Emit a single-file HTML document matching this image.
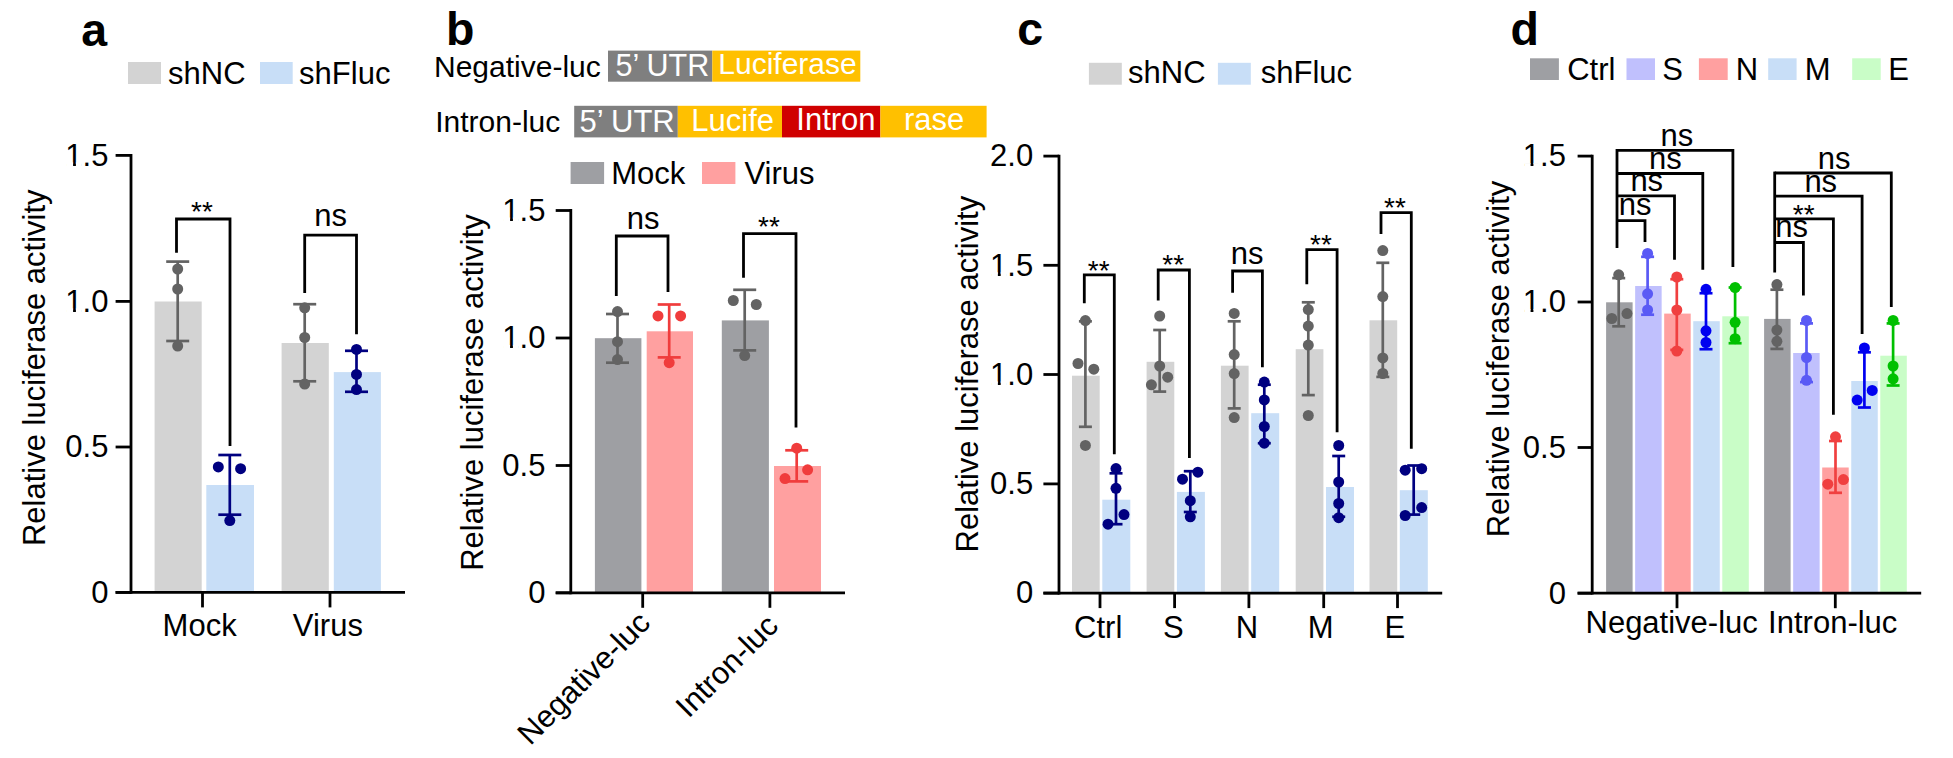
<!DOCTYPE html>
<html><head><meta charset="utf-8"><style>
html,body{margin:0;padding:0;background:#fff;}
svg{display:block;}
text{font-family:"Liberation Sans",sans-serif;}
</style></head><body>
<svg width="1953" height="758" viewBox="0 0 1953 758">
<rect width="1953" height="758" fill="#fff"/>
<text x="81.15" y="45.5" font-size="46.5" font-weight="bold" fill="#000" >a</text>
<rect x="128" y="62" width="33" height="22" fill="#d3d3d3"/>
<text x="168.12" y="83.8" font-size="31" font-weight="normal" fill="#000" >shNC</text>
<rect x="260" y="62" width="32.7" height="22" fill="#c8def7"/>
<text x="299.12" y="83.8" font-size="31" font-weight="normal" fill="#000" >shFluc</text>
<rect x="154.6" y="301.5" width="47.1" height="290.9" fill="#d3d3d3"/>
<rect x="206.3" y="485" width="47.7" height="107.4" fill="#c8def7"/>
<rect x="281.6" y="343" width="47.2" height="249.4" fill="#d3d3d3"/>
<rect x="333.8" y="372.1" width="47.1" height="220.3" fill="#c8def7"/>
<line x1="177.7" y1="261.6" x2="177.7" y2="341" stroke="#636363" stroke-width="2.7" stroke-linecap="butt"/>
<line x1="166.2" y1="261.6" x2="189.2" y2="261.6" stroke="#636363" stroke-width="2.7" stroke-linecap="butt"/>
<line x1="166.2" y1="341" x2="189.2" y2="341" stroke="#636363" stroke-width="2.7" stroke-linecap="butt"/>
<circle cx="177.7" cy="269" r="5.5" fill="#636363"/>
<circle cx="177.7" cy="289" r="5.5" fill="#636363"/>
<circle cx="177.7" cy="346" r="5.5" fill="#636363"/>
<line x1="229.8" y1="455" x2="229.8" y2="514.7" stroke="#000080" stroke-width="2.7" stroke-linecap="butt"/>
<line x1="218.3" y1="455" x2="241.3" y2="455" stroke="#000080" stroke-width="2.7" stroke-linecap="butt"/>
<line x1="218.3" y1="514.7" x2="241.3" y2="514.7" stroke="#000080" stroke-width="2.7" stroke-linecap="butt"/>
<circle cx="218.3" cy="466.9" r="5.5" fill="#000080"/>
<circle cx="240.6" cy="468.7" r="5.5" fill="#000080"/>
<circle cx="229.8" cy="520.6" r="5.5" fill="#000080"/>
<line x1="304.7" y1="304.2" x2="304.7" y2="381.3" stroke="#636363" stroke-width="2.7" stroke-linecap="butt"/>
<line x1="293.2" y1="304.2" x2="316.2" y2="304.2" stroke="#636363" stroke-width="2.7" stroke-linecap="butt"/>
<line x1="293.2" y1="381.3" x2="316.2" y2="381.3" stroke="#636363" stroke-width="2.7" stroke-linecap="butt"/>
<circle cx="304.7" cy="307.8" r="5.5" fill="#636363"/>
<circle cx="304.7" cy="337.5" r="5.5" fill="#636363"/>
<circle cx="304.7" cy="384" r="5.5" fill="#636363"/>
<line x1="356.5" y1="350.8" x2="356.5" y2="391.8" stroke="#000080" stroke-width="2.7" stroke-linecap="butt"/>
<line x1="345" y1="350.8" x2="368" y2="350.8" stroke="#000080" stroke-width="2.7" stroke-linecap="butt"/>
<line x1="345" y1="391.8" x2="368" y2="391.8" stroke="#000080" stroke-width="2.7" stroke-linecap="butt"/>
<circle cx="356.5" cy="349.4" r="5.5" fill="#000080"/>
<circle cx="356.5" cy="374.4" r="5.5" fill="#000080"/>
<circle cx="356.5" cy="389.6" r="5.5" fill="#000080"/>
<line x1="131" y1="154" x2="131" y2="593.8" stroke="#000" stroke-width="2.8" stroke-linecap="butt"/>
<line x1="115.6" y1="155.4" x2="131" y2="155.4" stroke="#000" stroke-width="2.8" stroke-linecap="butt"/>
<text x="65.33" y="165.7" font-size="31" font-weight="normal" fill="#000" >1.5</text>
<rect x="67" y="162.38" width="6.07" height="4.22" fill="#fff"/>
<rect x="75.91" y="162.38" width="5.88" height="4.22" fill="#fff"/>
<line x1="115.6" y1="301.4" x2="131" y2="301.4" stroke="#000" stroke-width="2.8" stroke-linecap="butt"/>
<text x="65.33" y="311.7" font-size="31" font-weight="normal" fill="#000" >1.0</text>
<rect x="67" y="308.38" width="6.07" height="4.22" fill="#fff"/>
<rect x="75.91" y="308.38" width="5.88" height="4.22" fill="#fff"/>
<line x1="115.6" y1="447" x2="131" y2="447" stroke="#000" stroke-width="2.8" stroke-linecap="butt"/>
<text x="65.33" y="457.3" font-size="31" font-weight="normal" fill="#000" >0.5</text>
<line x1="115.6" y1="592.4" x2="131" y2="592.4" stroke="#000" stroke-width="2.8" stroke-linecap="butt"/>
<text x="91.2" y="602.7" font-size="31" font-weight="normal" fill="#000" >0</text>
<line x1="115.6" y1="592.4" x2="405" y2="592.4" stroke="#000" stroke-width="2.8" stroke-linecap="butt"/>
<line x1="202.5" y1="592.4" x2="202.5" y2="607.4" stroke="#000" stroke-width="2.8" stroke-linecap="butt"/>
<line x1="330" y1="592.4" x2="330" y2="607.4" stroke="#000" stroke-width="2.8" stroke-linecap="butt"/>
<text x="162.59" y="635.6" font-size="31" font-weight="normal" fill="#000" >Mock</text>
<text x="292.84" y="635.6" font-size="31" font-weight="normal" fill="#000" >Virus</text>
<text x="0" y="0" font-size="31" fill="#000" transform="translate(45,546.1) rotate(-90)">Relative luciferase activity</text>
<path d="M176.5,252.8 V219 H230 V446" fill="none" stroke="#000" stroke-width="2.8" stroke-linejoin="miter" stroke-linecap="butt"/>
<text x="191.06" y="221.25" font-size="28" font-weight="normal" fill="#000" >**</text>
<path d="M304.7,293.1 V235.2 H356.5 V334.2" fill="none" stroke="#000" stroke-width="2.8" stroke-linejoin="miter" stroke-linecap="butt"/>
<text x="314.19" y="226" font-size="31" font-weight="normal" fill="#000" >ns</text>
<text x="445.95" y="45.02" font-size="46.5" font-weight="bold" fill="#000" >b</text>
<text x="434" y="76.5" font-size="30" font-weight="normal" fill="#000" >Negative-luc</text>
<rect x="608" y="50.6" width="104.3" height="31.1" fill="#7f7f7f"/>
<rect x="712.3" y="50.6" width="148" height="31.1" fill="#ffc000"/>
<text x="615.45" y="76" font-size="30.5" font-weight="normal" fill="#fff" >5’ UTR</text>
<text x="718.3" y="73.8" font-size="30" font-weight="normal" fill="#fff" >Luciferase</text>
<text x="435.25" y="132" font-size="30" font-weight="normal" fill="#000" >Intron-luc</text>
<rect x="574.2" y="105.8" width="103.6" height="31.6" fill="#7f7f7f"/>
<rect x="677.8" y="105.8" width="104.2" height="31.6" fill="#ffc000"/>
<rect x="782" y="105.8" width="98.4" height="31.6" fill="#d00000"/>
<rect x="880.4" y="105.8" width="106.2" height="31.6" fill="#ffc000"/>
<text x="579.45" y="131.7" font-size="31" font-weight="normal" fill="#fff" >5’ UTR</text>
<text x="691.3" y="130.6" font-size="31" font-weight="normal" fill="#fff" >Lucife</text>
<text x="796.33" y="129.9" font-size="31" font-weight="normal" fill="#fff" >Intron</text>
<text x="904" y="129.9" font-size="31" font-weight="normal" fill="#fff" >rase</text>
<rect x="570.6" y="162" width="33.5" height="22" fill="#9e9fa3"/>
<text x="611.3" y="183.5" font-size="31" font-weight="normal" fill="#000" >Mock</text>
<rect x="702" y="162" width="33.4" height="22" fill="#ffa0a0"/>
<text x="744.38" y="183.5" font-size="31" font-weight="normal" fill="#000" >Virus</text>
<rect x="594.9" y="338.2" width="46.5" height="254.6" fill="#9e9fa3"/>
<rect x="646.7" y="331.3" width="46.3" height="261.5" fill="#ffa0a0"/>
<rect x="721.8" y="320.4" width="47.1" height="272.4" fill="#9e9fa3"/>
<rect x="774" y="466" width="47" height="126.8" fill="#ffa0a0"/>
<line x1="617.5" y1="314" x2="617.5" y2="362.7" stroke="#636363" stroke-width="2.7" stroke-linecap="butt"/>
<line x1="606" y1="314" x2="629" y2="314" stroke="#636363" stroke-width="2.7" stroke-linecap="butt"/>
<line x1="606" y1="362.7" x2="629" y2="362.7" stroke="#636363" stroke-width="2.7" stroke-linecap="butt"/>
<circle cx="617.5" cy="311.6" r="5.5" fill="#636363"/>
<circle cx="617.5" cy="341.7" r="5.5" fill="#636363"/>
<circle cx="617.5" cy="359.6" r="5.5" fill="#636363"/>
<line x1="669.2" y1="304.5" x2="669.2" y2="357.4" stroke="#f03c3c" stroke-width="2.7" stroke-linecap="butt"/>
<line x1="657.7" y1="304.5" x2="680.7" y2="304.5" stroke="#f03c3c" stroke-width="2.7" stroke-linecap="butt"/>
<line x1="657.7" y1="357.4" x2="680.7" y2="357.4" stroke="#f03c3c" stroke-width="2.7" stroke-linecap="butt"/>
<circle cx="658" cy="315.9" r="5.5" fill="#f03c3c"/>
<circle cx="680.6" cy="315.9" r="5.5" fill="#f03c3c"/>
<circle cx="669.2" cy="362.7" r="5.5" fill="#f03c3c"/>
<line x1="744.7" y1="289.8" x2="744.7" y2="350.4" stroke="#636363" stroke-width="2.7" stroke-linecap="butt"/>
<line x1="733.2" y1="289.8" x2="756.2" y2="289.8" stroke="#636363" stroke-width="2.7" stroke-linecap="butt"/>
<line x1="733.2" y1="350.4" x2="756.2" y2="350.4" stroke="#636363" stroke-width="2.7" stroke-linecap="butt"/>
<circle cx="733.3" cy="300.5" r="5.5" fill="#636363"/>
<circle cx="756.3" cy="304.5" r="5.5" fill="#636363"/>
<circle cx="744.7" cy="355.6" r="5.5" fill="#636363"/>
<line x1="796.7" y1="450.3" x2="796.7" y2="481.4" stroke="#f03c3c" stroke-width="2.7" stroke-linecap="butt"/>
<line x1="785.2" y1="450.3" x2="808.2" y2="450.3" stroke="#f03c3c" stroke-width="2.7" stroke-linecap="butt"/>
<line x1="785.2" y1="481.4" x2="808.2" y2="481.4" stroke="#f03c3c" stroke-width="2.7" stroke-linecap="butt"/>
<circle cx="796.7" cy="448.2" r="5.5" fill="#f03c3c"/>
<circle cx="807.6" cy="469.8" r="5.5" fill="#f03c3c"/>
<circle cx="785" cy="478.6" r="5.5" fill="#f03c3c"/>
<line x1="570.8" y1="209.1" x2="570.8" y2="594.2" stroke="#000" stroke-width="2.8" stroke-linecap="butt"/>
<line x1="555.7" y1="210.5" x2="570.8" y2="210.5" stroke="#000" stroke-width="2.8" stroke-linecap="butt"/>
<text x="502.33" y="220.8" font-size="31" font-weight="normal" fill="#000" >1.5</text>
<rect x="504" y="217.48" width="6.07" height="4.22" fill="#fff"/>
<rect x="512.91" y="217.48" width="5.88" height="4.22" fill="#fff"/>
<line x1="555.7" y1="338" x2="570.8" y2="338" stroke="#000" stroke-width="2.8" stroke-linecap="butt"/>
<text x="502.33" y="348.3" font-size="31" font-weight="normal" fill="#000" >1.0</text>
<rect x="504" y="344.98" width="6.07" height="4.22" fill="#fff"/>
<rect x="512.91" y="344.98" width="5.88" height="4.22" fill="#fff"/>
<line x1="555.7" y1="465.5" x2="570.8" y2="465.5" stroke="#000" stroke-width="2.8" stroke-linecap="butt"/>
<text x="502.33" y="475.8" font-size="31" font-weight="normal" fill="#000" >0.5</text>
<line x1="555.7" y1="592.8" x2="570.8" y2="592.8" stroke="#000" stroke-width="2.8" stroke-linecap="butt"/>
<text x="528.2" y="603.1" font-size="31" font-weight="normal" fill="#000" >0</text>
<line x1="555.7" y1="592.8" x2="845" y2="592.8" stroke="#000" stroke-width="2.8" stroke-linecap="butt"/>
<line x1="642.7" y1="592.8" x2="642.7" y2="607.8" stroke="#000" stroke-width="2.8" stroke-linecap="butt"/>
<line x1="769.9" y1="592.8" x2="769.9" y2="607.8" stroke="#000" stroke-width="2.8" stroke-linecap="butt"/>
<text x="0" y="0" font-size="31" fill="#000" transform="translate(482.9,570.85) rotate(-90)">Relative luciferase activity</text>
<path d="M616.3,296 V236 H668 V292" fill="none" stroke="#000" stroke-width="2.8" stroke-linejoin="miter" stroke-linecap="butt"/>
<text x="626.69" y="229.2" font-size="31" font-weight="normal" fill="#000" >ns</text>
<path d="M743.5,277.7 V233.7 H796 V427.5" fill="none" stroke="#000" stroke-width="2.8" stroke-linejoin="miter" stroke-linecap="butt"/>
<text x="758.06" y="235.85" font-size="28" font-weight="normal" fill="#000" >**</text>
<text x="652" y="624.5" font-size="31" text-anchor="end" transform="rotate(-45 652 624.5)">Negative-luc</text>
<text x="780" y="627.5" font-size="31" text-anchor="end" transform="rotate(-45 780 627.5)">Intron-luc</text>
<text x="1017.17" y="45.05" font-size="46.5" font-weight="bold" fill="#000" >c</text>
<rect x="1088.9" y="62.8" width="32.9" height="21.9" fill="#d3d3d3"/>
<text x="1128.03" y="83.4" font-size="31" font-weight="normal" fill="#000" >shNC</text>
<rect x="1217.9" y="62.8" width="32.9" height="21.9" fill="#c8def7"/>
<text x="1260.72" y="83.4" font-size="31" font-weight="normal" fill="#000" >shFluc</text>
<rect x="1072" y="375.7" width="27.7" height="217.4" fill="#d3d3d3"/>
<rect x="1102.3" y="499.7" width="28" height="93.4" fill="#c8def7"/>
<rect x="1146.6" y="361.8" width="27.7" height="231.3" fill="#d3d3d3"/>
<rect x="1176.9" y="491.9" width="28" height="101.2" fill="#c8def7"/>
<rect x="1220.9" y="365.7" width="27.7" height="227.4" fill="#d3d3d3"/>
<rect x="1251.2" y="413.2" width="28" height="179.9" fill="#c8def7"/>
<rect x="1295.7" y="349.2" width="27.7" height="243.9" fill="#d3d3d3"/>
<rect x="1326" y="487" width="28" height="106.1" fill="#c8def7"/>
<rect x="1369.5" y="320.3" width="27.7" height="272.8" fill="#d3d3d3"/>
<rect x="1399.8" y="490.2" width="28" height="102.9" fill="#c8def7"/>
<line x1="1085.4" y1="321.3" x2="1085.4" y2="426.8" stroke="#636363" stroke-width="2.7" stroke-linecap="butt"/>
<line x1="1078.9" y1="321.3" x2="1091.9" y2="321.3" stroke="#636363" stroke-width="2.7" stroke-linecap="butt"/>
<line x1="1078.9" y1="426.8" x2="1091.9" y2="426.8" stroke="#636363" stroke-width="2.7" stroke-linecap="butt"/>
<circle cx="1085.4" cy="320.6" r="5.5" fill="#636363"/>
<circle cx="1078" cy="363.5" r="5.5" fill="#636363"/>
<circle cx="1093.8" cy="369.2" r="5.5" fill="#636363"/>
<circle cx="1085.4" cy="445.4" r="5.5" fill="#636363"/>
<line x1="1116" y1="473.3" x2="1116" y2="524.2" stroke="#000080" stroke-width="2.7" stroke-linecap="butt"/>
<line x1="1109.5" y1="473.3" x2="1122.5" y2="473.3" stroke="#000080" stroke-width="2.7" stroke-linecap="butt"/>
<line x1="1109.5" y1="524.2" x2="1122.5" y2="524.2" stroke="#000080" stroke-width="2.7" stroke-linecap="butt"/>
<circle cx="1116" cy="468.6" r="5.5" fill="#000080"/>
<circle cx="1116" cy="488.3" r="5.5" fill="#000080"/>
<circle cx="1124" cy="514.6" r="5.5" fill="#000080"/>
<circle cx="1108" cy="524.2" r="5.5" fill="#000080"/>
<line x1="1159.7" y1="330" x2="1159.7" y2="391.6" stroke="#636363" stroke-width="2.7" stroke-linecap="butt"/>
<line x1="1153.2" y1="330" x2="1166.2" y2="330" stroke="#636363" stroke-width="2.7" stroke-linecap="butt"/>
<line x1="1153.2" y1="391.6" x2="1166.2" y2="391.6" stroke="#636363" stroke-width="2.7" stroke-linecap="butt"/>
<circle cx="1159.7" cy="316" r="5.5" fill="#636363"/>
<circle cx="1159.7" cy="366" r="5.5" fill="#636363"/>
<circle cx="1167.7" cy="377.2" r="5.5" fill="#636363"/>
<circle cx="1151.4" cy="384.8" r="5.5" fill="#636363"/>
<line x1="1190.3" y1="471.2" x2="1190.3" y2="512" stroke="#000080" stroke-width="2.7" stroke-linecap="butt"/>
<line x1="1183.8" y1="471.2" x2="1196.8" y2="471.2" stroke="#000080" stroke-width="2.7" stroke-linecap="butt"/>
<line x1="1183.8" y1="512" x2="1196.8" y2="512" stroke="#000080" stroke-width="2.7" stroke-linecap="butt"/>
<circle cx="1182.5" cy="479.2" r="5.5" fill="#000080"/>
<circle cx="1197.9" cy="472.2" r="5.5" fill="#000080"/>
<circle cx="1190.3" cy="500.7" r="5.5" fill="#000080"/>
<circle cx="1190.3" cy="516.8" r="5.5" fill="#000080"/>
<line x1="1234.2" y1="321.3" x2="1234.2" y2="408.4" stroke="#636363" stroke-width="2.7" stroke-linecap="butt"/>
<line x1="1227.7" y1="321.3" x2="1240.7" y2="321.3" stroke="#636363" stroke-width="2.7" stroke-linecap="butt"/>
<line x1="1227.7" y1="408.4" x2="1240.7" y2="408.4" stroke="#636363" stroke-width="2.7" stroke-linecap="butt"/>
<circle cx="1234.2" cy="313.4" r="5.5" fill="#636363"/>
<circle cx="1234.2" cy="354.6" r="5.5" fill="#636363"/>
<circle cx="1234.2" cy="373.6" r="5.5" fill="#636363"/>
<circle cx="1234.2" cy="417.6" r="5.5" fill="#636363"/>
<line x1="1264.3" y1="384.7" x2="1264.3" y2="443.2" stroke="#000080" stroke-width="2.7" stroke-linecap="butt"/>
<line x1="1257.8" y1="384.7" x2="1270.8" y2="384.7" stroke="#000080" stroke-width="2.7" stroke-linecap="butt"/>
<line x1="1257.8" y1="443.2" x2="1270.8" y2="443.2" stroke="#000080" stroke-width="2.7" stroke-linecap="butt"/>
<circle cx="1264.3" cy="382.1" r="5.5" fill="#000080"/>
<circle cx="1264.3" cy="399.9" r="5.5" fill="#000080"/>
<circle cx="1264.3" cy="426.5" r="5.5" fill="#000080"/>
<circle cx="1264.3" cy="443.2" r="5.5" fill="#000080"/>
<line x1="1308.3" y1="302.3" x2="1308.3" y2="395.1" stroke="#636363" stroke-width="2.7" stroke-linecap="butt"/>
<line x1="1301.8" y1="302.3" x2="1314.8" y2="302.3" stroke="#636363" stroke-width="2.7" stroke-linecap="butt"/>
<line x1="1301.8" y1="395.1" x2="1314.8" y2="395.1" stroke="#636363" stroke-width="2.7" stroke-linecap="butt"/>
<circle cx="1308.3" cy="309.6" r="5.5" fill="#636363"/>
<circle cx="1308.3" cy="326.1" r="5.5" fill="#636363"/>
<circle cx="1308.3" cy="345.1" r="5.5" fill="#636363"/>
<circle cx="1308.3" cy="415.5" r="5.5" fill="#636363"/>
<line x1="1338.7" y1="456" x2="1338.7" y2="516.8" stroke="#000080" stroke-width="2.7" stroke-linecap="butt"/>
<line x1="1332.2" y1="456" x2="1345.2" y2="456" stroke="#000080" stroke-width="2.7" stroke-linecap="butt"/>
<line x1="1332.2" y1="516.8" x2="1345.2" y2="516.8" stroke="#000080" stroke-width="2.7" stroke-linecap="butt"/>
<circle cx="1338.7" cy="445.5" r="5.5" fill="#000080"/>
<circle cx="1338.7" cy="482" r="5.5" fill="#000080"/>
<circle cx="1338.7" cy="503.5" r="5.5" fill="#000080"/>
<circle cx="1338.7" cy="517.7" r="5.5" fill="#000080"/>
<line x1="1382.8" y1="262.8" x2="1382.8" y2="376.9" stroke="#636363" stroke-width="2.7" stroke-linecap="butt"/>
<line x1="1376.3" y1="262.8" x2="1389.3" y2="262.8" stroke="#636363" stroke-width="2.7" stroke-linecap="butt"/>
<line x1="1376.3" y1="376.9" x2="1389.3" y2="376.9" stroke="#636363" stroke-width="2.7" stroke-linecap="butt"/>
<circle cx="1382.8" cy="250.6" r="5.5" fill="#636363"/>
<circle cx="1382.8" cy="296.6" r="5.5" fill="#636363"/>
<circle cx="1382.8" cy="357.9" r="5.5" fill="#636363"/>
<circle cx="1382.8" cy="373.5" r="5.5" fill="#636363"/>
<line x1="1413.7" y1="465.5" x2="1413.7" y2="514.6" stroke="#000080" stroke-width="2.7" stroke-linecap="butt"/>
<line x1="1407.2" y1="465.5" x2="1420.2" y2="465.5" stroke="#000080" stroke-width="2.7" stroke-linecap="butt"/>
<line x1="1407.2" y1="514.6" x2="1420.2" y2="514.6" stroke="#000080" stroke-width="2.7" stroke-linecap="butt"/>
<circle cx="1405.2" cy="470.2" r="5.5" fill="#000080"/>
<circle cx="1421.7" cy="468.7" r="5.5" fill="#000080"/>
<circle cx="1421.7" cy="507.6" r="5.5" fill="#000080"/>
<circle cx="1405.2" cy="515.5" r="5.5" fill="#000080"/>
<line x1="1059" y1="154.7" x2="1059" y2="594.5" stroke="#000" stroke-width="2.8" stroke-linecap="butt"/>
<line x1="1043.4" y1="156.1" x2="1059" y2="156.1" stroke="#000" stroke-width="2.8" stroke-linecap="butt"/>
<text x="990.12" y="166.4" font-size="31" font-weight="normal" fill="#000" >2.0</text>
<line x1="1043.4" y1="265.3" x2="1059" y2="265.3" stroke="#000" stroke-width="2.8" stroke-linecap="butt"/>
<text x="990.12" y="275.6" font-size="31" font-weight="normal" fill="#000" >1.5</text>
<rect x="991.8" y="272.28" width="6.07" height="4.22" fill="#fff"/>
<rect x="1000.71" y="272.28" width="5.88" height="4.22" fill="#fff"/>
<line x1="1043.4" y1="374.5" x2="1059" y2="374.5" stroke="#000" stroke-width="2.8" stroke-linecap="butt"/>
<text x="990.12" y="384.8" font-size="31" font-weight="normal" fill="#000" >1.0</text>
<rect x="991.8" y="381.48" width="6.07" height="4.22" fill="#fff"/>
<rect x="1000.71" y="381.48" width="5.88" height="4.22" fill="#fff"/>
<line x1="1043.4" y1="483.9" x2="1059" y2="483.9" stroke="#000" stroke-width="2.8" stroke-linecap="butt"/>
<text x="990.12" y="494.2" font-size="31" font-weight="normal" fill="#000" >0.5</text>
<line x1="1043.4" y1="593.1" x2="1059" y2="593.1" stroke="#000" stroke-width="2.8" stroke-linecap="butt"/>
<text x="1016" y="603.4" font-size="31" font-weight="normal" fill="#000" >0</text>
<line x1="1043.4" y1="593.1" x2="1442.2" y2="593.1" stroke="#000" stroke-width="2.8" stroke-linecap="butt"/>
<line x1="1100" y1="593.1" x2="1100" y2="608.1" stroke="#000" stroke-width="2.8" stroke-linecap="butt"/>
<line x1="1174.6" y1="593.1" x2="1174.6" y2="608.1" stroke="#000" stroke-width="2.8" stroke-linecap="butt"/>
<line x1="1248.9" y1="593.1" x2="1248.9" y2="608.1" stroke="#000" stroke-width="2.8" stroke-linecap="butt"/>
<line x1="1323.7" y1="593.1" x2="1323.7" y2="608.1" stroke="#000" stroke-width="2.8" stroke-linecap="butt"/>
<line x1="1397.5" y1="593.1" x2="1397.5" y2="608.1" stroke="#000" stroke-width="2.8" stroke-linecap="butt"/>
<text x="1074.12" y="638.4" font-size="31" font-weight="normal" fill="#000" >Ctrl</text>
<text x="1162.89" y="638.4" font-size="31" font-weight="normal" fill="#000" >S</text>
<text x="1235.71" y="638.4" font-size="31" font-weight="normal" fill="#000" >N</text>
<text x="1307.72" y="638.4" font-size="31" font-weight="normal" fill="#000" >M</text>
<text x="1384.56" y="638.4" font-size="31" font-weight="normal" fill="#000" >E</text>
<text x="0" y="0" font-size="31" fill="#000" transform="translate(978.3,552.45) rotate(-90)">Relative luciferase activity</text>
<path d="M1084.3,303.3 V274.8 H1114.3 V454.3" fill="none" stroke="#000" stroke-width="2.8" stroke-linejoin="miter" stroke-linecap="butt"/>
<text x="1087.86" y="280.25" font-size="28" font-weight="normal" fill="#000" >**</text>
<path d="M1158.2,300.6 V270 H1189.4 V458.1" fill="none" stroke="#000" stroke-width="2.8" stroke-linejoin="miter" stroke-linecap="butt"/>
<text x="1162.26" y="274.05" font-size="28" font-weight="normal" fill="#000" >**</text>
<path d="M1232.6,292.8 V271 H1262.4 V367.2" fill="none" stroke="#000" stroke-width="2.8" stroke-linejoin="miter" stroke-linecap="butt"/>
<text x="1230.69" y="263.6" font-size="31" font-weight="normal" fill="#000" >ns</text>
<path d="M1306.8,284.3 V249.6 H1337.1 V432.2" fill="none" stroke="#000" stroke-width="2.8" stroke-linejoin="miter" stroke-linecap="butt"/>
<text x="1310.06" y="254.25" font-size="28" font-weight="normal" fill="#000" >**</text>
<path d="M1381,234 V212.7 H1411.3 V448.8" fill="none" stroke="#000" stroke-width="2.8" stroke-linejoin="miter" stroke-linecap="butt"/>
<text x="1384.06" y="217.05" font-size="28" font-weight="normal" fill="#000" >**</text>
<text x="1510.47" y="45.27" font-size="46.5" font-weight="bold" fill="#000" >d</text>
<rect x="1530" y="58.3" width="28.9" height="21.7" fill="#9e9fa3"/>
<text x="1567.2" y="79.6" font-size="31" font-weight="normal" fill="#000" >Ctrl</text>
<rect x="1626.5" y="58.3" width="28.5" height="21.7" fill="#c0c0fd"/>
<text x="1662.33" y="79.6" font-size="31" font-weight="normal" fill="#000" >S</text>
<rect x="1698.9" y="58.3" width="28.8" height="21.7" fill="#ffa0a0"/>
<text x="1735.7" y="79.6" font-size="31" font-weight="normal" fill="#000" >N</text>
<rect x="1768.2" y="58.3" width="28.4" height="21.7" fill="#c8def7"/>
<text x="1804.7" y="79.6" font-size="31" font-weight="normal" fill="#000" >M</text>
<rect x="1852.2" y="58.3" width="28.5" height="21.7" fill="#c9fdc7"/>
<text x="1888.3" y="79.6" font-size="31" font-weight="normal" fill="#000" >E</text>
<rect x="1606.1" y="302.3" width="26.5" height="290.9" fill="#9e9fa3"/>
<rect x="1764.1" y="318.9" width="26.5" height="274.3" fill="#9e9fa3"/>
<rect x="1635.15" y="286" width="26.5" height="307.2" fill="#c0c0fd"/>
<rect x="1793.15" y="353" width="26.5" height="240.2" fill="#c0c0fd"/>
<rect x="1664.2" y="313.6" width="26.5" height="279.6" fill="#ffa0a0"/>
<rect x="1822.2" y="467.5" width="26.5" height="125.7" fill="#ffa0a0"/>
<rect x="1693.25" y="321.2" width="26.5" height="272" fill="#c8def7"/>
<rect x="1851.25" y="381" width="26.5" height="212.2" fill="#c8def7"/>
<rect x="1722.3" y="316.3" width="26.5" height="276.9" fill="#c9fdc7"/>
<rect x="1880.3" y="355.7" width="26.5" height="237.5" fill="#c9fdc7"/>
<line x1="1618.7" y1="278.1" x2="1618.7" y2="326.3" stroke="#636363" stroke-width="2.7" stroke-linecap="butt"/>
<line x1="1612.2" y1="278.1" x2="1625.2" y2="278.1" stroke="#636363" stroke-width="2.7" stroke-linecap="butt"/>
<line x1="1612.2" y1="326.3" x2="1625.2" y2="326.3" stroke="#636363" stroke-width="2.7" stroke-linecap="butt"/>
<circle cx="1618.7" cy="274.8" r="5.5" fill="#636363"/>
<circle cx="1611.8" cy="318.5" r="5.5" fill="#636363"/>
<circle cx="1627" cy="313.6" r="5.5" fill="#636363"/>
<line x1="1647.6" y1="256.8" x2="1647.6" y2="314.7" stroke="#5a5af5" stroke-width="2.7" stroke-linecap="butt"/>
<line x1="1641.1" y1="256.8" x2="1654.1" y2="256.8" stroke="#5a5af5" stroke-width="2.7" stroke-linecap="butt"/>
<line x1="1641.1" y1="314.7" x2="1654.1" y2="314.7" stroke="#5a5af5" stroke-width="2.7" stroke-linecap="butt"/>
<circle cx="1647.6" cy="253.5" r="5.5" fill="#5a5af5"/>
<circle cx="1647.6" cy="293.8" r="5.5" fill="#5a5af5"/>
<circle cx="1647.6" cy="310" r="5.5" fill="#5a5af5"/>
<line x1="1676.8" y1="279.2" x2="1676.8" y2="349.9" stroke="#f04040" stroke-width="2.7" stroke-linecap="butt"/>
<line x1="1670.3" y1="279.2" x2="1683.3" y2="279.2" stroke="#f04040" stroke-width="2.7" stroke-linecap="butt"/>
<line x1="1670.3" y1="349.9" x2="1683.3" y2="349.9" stroke="#f04040" stroke-width="2.7" stroke-linecap="butt"/>
<circle cx="1676.8" cy="277" r="5.5" fill="#f04040"/>
<circle cx="1676.8" cy="310" r="5.5" fill="#f04040"/>
<circle cx="1676.8" cy="351" r="5.5" fill="#f04040"/>
<line x1="1706" y1="293.2" x2="1706" y2="349.2" stroke="#0000f0" stroke-width="2.7" stroke-linecap="butt"/>
<line x1="1699.5" y1="293.2" x2="1712.5" y2="293.2" stroke="#0000f0" stroke-width="2.7" stroke-linecap="butt"/>
<line x1="1699.5" y1="349.2" x2="1712.5" y2="349.2" stroke="#0000f0" stroke-width="2.7" stroke-linecap="butt"/>
<circle cx="1706" cy="289.3" r="5.5" fill="#0000f0"/>
<circle cx="1706" cy="330.8" r="5.5" fill="#0000f0"/>
<circle cx="1706" cy="342.5" r="5.5" fill="#0000f0"/>
<line x1="1735.1" y1="287.5" x2="1735.1" y2="343.2" stroke="#00c000" stroke-width="2.7" stroke-linecap="butt"/>
<line x1="1728.6" y1="287.5" x2="1741.6" y2="287.5" stroke="#00c000" stroke-width="2.7" stroke-linecap="butt"/>
<line x1="1728.6" y1="343.2" x2="1741.6" y2="343.2" stroke="#00c000" stroke-width="2.7" stroke-linecap="butt"/>
<circle cx="1735.1" cy="287.5" r="5.5" fill="#00c000"/>
<circle cx="1735.1" cy="322.3" r="5.5" fill="#00c000"/>
<circle cx="1735.1" cy="338.7" r="5.5" fill="#00c000"/>
<line x1="1776.9" y1="289.7" x2="1776.9" y2="348.9" stroke="#636363" stroke-width="2.7" stroke-linecap="butt"/>
<line x1="1770.4" y1="289.7" x2="1783.4" y2="289.7" stroke="#636363" stroke-width="2.7" stroke-linecap="butt"/>
<line x1="1770.4" y1="348.9" x2="1783.4" y2="348.9" stroke="#636363" stroke-width="2.7" stroke-linecap="butt"/>
<circle cx="1776.9" cy="284.6" r="5.5" fill="#636363"/>
<circle cx="1776.9" cy="330.1" r="5.5" fill="#636363"/>
<circle cx="1776.9" cy="341.3" r="5.5" fill="#636363"/>
<line x1="1806.5" y1="323.4" x2="1806.5" y2="382.1" stroke="#5a5af5" stroke-width="2.7" stroke-linecap="butt"/>
<line x1="1800" y1="323.4" x2="1813" y2="323.4" stroke="#5a5af5" stroke-width="2.7" stroke-linecap="butt"/>
<line x1="1800" y1="382.1" x2="1813" y2="382.1" stroke="#5a5af5" stroke-width="2.7" stroke-linecap="butt"/>
<circle cx="1806.5" cy="320.5" r="5.5" fill="#5a5af5"/>
<circle cx="1806.5" cy="357.5" r="5.5" fill="#5a5af5"/>
<circle cx="1806.5" cy="380.3" r="5.5" fill="#5a5af5"/>
<line x1="1835.5" y1="441" x2="1835.5" y2="492.8" stroke="#f04040" stroke-width="2.7" stroke-linecap="butt"/>
<line x1="1829" y1="441" x2="1842" y2="441" stroke="#f04040" stroke-width="2.7" stroke-linecap="butt"/>
<line x1="1829" y1="492.8" x2="1842" y2="492.8" stroke="#f04040" stroke-width="2.7" stroke-linecap="butt"/>
<circle cx="1835.5" cy="436.8" r="5.5" fill="#f04040"/>
<circle cx="1827.8" cy="484.2" r="5.5" fill="#f04040"/>
<circle cx="1843.4" cy="479.6" r="5.5" fill="#f04040"/>
<line x1="1864.4" y1="352.3" x2="1864.4" y2="407.5" stroke="#0000f0" stroke-width="2.7" stroke-linecap="butt"/>
<line x1="1857.9" y1="352.3" x2="1870.9" y2="352.3" stroke="#0000f0" stroke-width="2.7" stroke-linecap="butt"/>
<line x1="1857.9" y1="407.5" x2="1870.9" y2="407.5" stroke="#0000f0" stroke-width="2.7" stroke-linecap="butt"/>
<circle cx="1864.4" cy="348" r="5.5" fill="#0000f0"/>
<circle cx="1872.2" cy="390.4" r="5.5" fill="#0000f0"/>
<circle cx="1857.2" cy="400.1" r="5.5" fill="#0000f0"/>
<line x1="1893.1" y1="323.4" x2="1893.1" y2="385.5" stroke="#00c000" stroke-width="2.7" stroke-linecap="butt"/>
<line x1="1886.6" y1="323.4" x2="1899.6" y2="323.4" stroke="#00c000" stroke-width="2.7" stroke-linecap="butt"/>
<line x1="1886.6" y1="385.5" x2="1899.6" y2="385.5" stroke="#00c000" stroke-width="2.7" stroke-linecap="butt"/>
<circle cx="1893.1" cy="320.5" r="5.5" fill="#00c000"/>
<circle cx="1893.1" cy="366" r="5.5" fill="#00c000"/>
<circle cx="1893.1" cy="378.8" r="5.5" fill="#00c000"/>
<line x1="1592.2" y1="154.7" x2="1592.2" y2="594.6" stroke="#000" stroke-width="2.8" stroke-linecap="butt"/>
<line x1="1577.6" y1="156.1" x2="1592.2" y2="156.1" stroke="#000" stroke-width="2.8" stroke-linecap="butt"/>
<text x="1522.83" y="166.4" font-size="31" font-weight="normal" fill="#000" >1.5</text>
<rect x="1524.5" y="163.08" width="6.07" height="4.22" fill="#fff"/>
<rect x="1533.41" y="163.08" width="5.88" height="4.22" fill="#fff"/>
<line x1="1577.6" y1="302" x2="1592.2" y2="302" stroke="#000" stroke-width="2.8" stroke-linecap="butt"/>
<text x="1522.83" y="312.3" font-size="31" font-weight="normal" fill="#000" >1.0</text>
<rect x="1524.5" y="308.98" width="6.07" height="4.22" fill="#fff"/>
<rect x="1533.41" y="308.98" width="5.88" height="4.22" fill="#fff"/>
<line x1="1577.6" y1="447.5" x2="1592.2" y2="447.5" stroke="#000" stroke-width="2.8" stroke-linecap="butt"/>
<text x="1522.83" y="457.8" font-size="31" font-weight="normal" fill="#000" >0.5</text>
<line x1="1577.6" y1="593.2" x2="1592.2" y2="593.2" stroke="#000" stroke-width="2.8" stroke-linecap="butt"/>
<text x="1548.7" y="603.5" font-size="31" font-weight="normal" fill="#000" >0</text>
<line x1="1577.6" y1="593.2" x2="1921.2" y2="593.2" stroke="#000" stroke-width="2.8" stroke-linecap="butt"/>
<line x1="1677" y1="593.2" x2="1677" y2="608.2" stroke="#000" stroke-width="2.8" stroke-linecap="butt"/>
<line x1="1835.3" y1="593.2" x2="1835.3" y2="608.2" stroke="#000" stroke-width="2.8" stroke-linecap="butt"/>
<text x="1585.5" y="633.1" font-size="31" font-weight="normal" fill="#000" >Negative-luc</text>
<text x="1768.12" y="633.1" font-size="31" font-weight="normal" fill="#000" >Intron-luc</text>
<text x="0" y="0" font-size="31" fill="#000" transform="translate(1509,537.3) rotate(-90)">Relative luciferase activity</text>
<line x1="1617" y1="149" x2="1617" y2="248" stroke="#000" stroke-width="2.8" stroke-linecap="butt"/>
<path d="M1617,150.4 H1732.9 V267" fill="none" stroke="#000" stroke-width="2.8" stroke-linejoin="miter" stroke-linecap="butt"/>
<text x="1660.49" y="145.9" font-size="31" font-weight="normal" fill="#000" >ns</text>
<path d="M1617,173.5 H1702.8 V269.7" fill="none" stroke="#000" stroke-width="2.8" stroke-linejoin="miter" stroke-linecap="butt"/>
<text x="1648.99" y="169.4" font-size="31" font-weight="normal" fill="#000" >ns</text>
<path d="M1617,195.9 H1674.5 V259.8" fill="none" stroke="#000" stroke-width="2.8" stroke-linejoin="miter" stroke-linecap="butt"/>
<text x="1630.39" y="190.7" font-size="31" font-weight="normal" fill="#000" >ns</text>
<path d="M1617,220.6 H1645 V241.9" fill="none" stroke="#000" stroke-width="2.8" stroke-linejoin="miter" stroke-linecap="butt"/>
<text x="1618.69" y="215.4" font-size="31" font-weight="normal" fill="#000" >ns</text>
<line x1="1774.7" y1="171.6" x2="1774.7" y2="272.5" stroke="#000" stroke-width="2.8" stroke-linecap="butt"/>
<path d="M1774.7,173 H1891.3 V307" fill="none" stroke="#000" stroke-width="2.8" stroke-linejoin="miter" stroke-linecap="butt"/>
<text x="1817.69" y="169.2" font-size="31" font-weight="normal" fill="#000" >ns</text>
<path d="M1774.7,196.1 H1862.1 V333.9" fill="none" stroke="#000" stroke-width="2.8" stroke-linejoin="miter" stroke-linecap="butt"/>
<text x="1804.39" y="192" font-size="31" font-weight="normal" fill="#000" >ns</text>
<path d="M1774.7,218.9 H1833.4 V414.7" fill="none" stroke="#000" stroke-width="2.8" stroke-linejoin="miter" stroke-linecap="butt"/>
<text x="1792.86" y="224.25" font-size="28" font-weight="normal" fill="#000" >**</text>
<path d="M1774.7,242.5 H1803.4 V295.6" fill="none" stroke="#000" stroke-width="2.8" stroke-linejoin="miter" stroke-linecap="butt"/>
<text x="1775.19" y="236.9" font-size="31" font-weight="normal" fill="#000" >ns</text>
</svg>
</body></html>
